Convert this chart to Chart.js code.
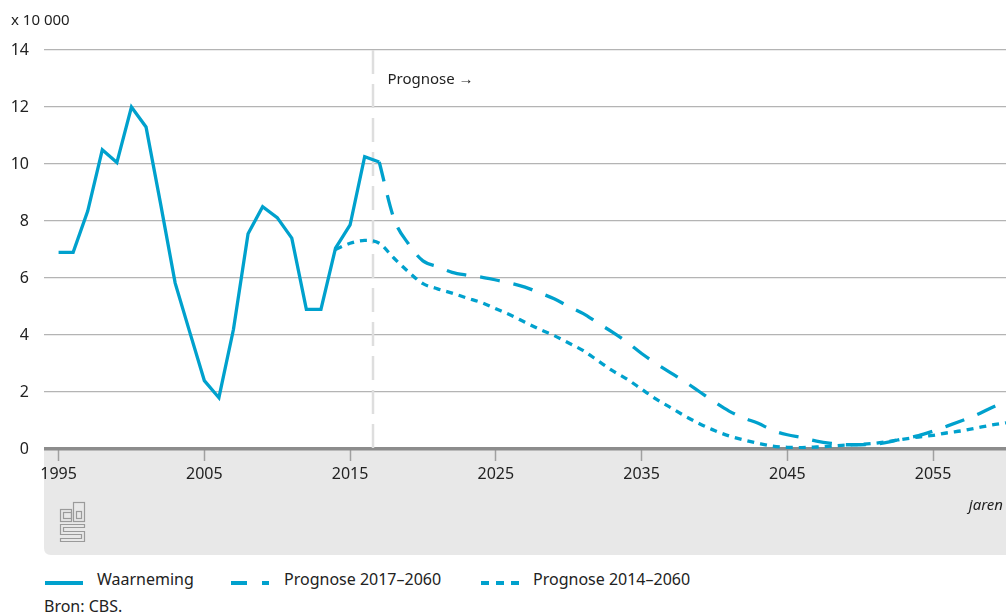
<!DOCTYPE html>
<html>
<head>
<meta charset="utf-8">
<script src="https://cdn.jsdelivr.net/npm/chart.js@4/dist/chart.umd.min.js"></script>
<style>
  body { margin: 0; background: #fff; font-family: 'Noto Sans', sans-serif; color: #222; }
  #wrap { position: relative; width: 1006px; height: 615px; }
  #box { position: absolute; left: 0; top: 0; width: 1006px; height: 555px; }
  .leg { position: absolute; top: 568px; font-size: 16px; line-height: 22px; white-space: nowrap; }
  .leg svg { position: absolute; top: 0; }
  #bron { position: absolute; left: 44px; top: 595px; font-size: 16px; line-height: 22px; }
</style>
</head>
<body>
<div id="wrap">
  <div id="box"><canvas id="chart"></canvas></div>
  <div class="leg" style="left:45px">
    <svg width="40" height="22"><line x1="0" y1="15" x2="38" y2="15" stroke="#00a1cd" stroke-width="4"/></svg>
    <span style="margin-left:52px">Waarneming</span>
  </div>
  <div class="leg" style="left:231px">
    <svg width="40" height="22"><line x1="0" y1="15" x2="38" y2="15" stroke="#00a1cd" stroke-width="4" stroke-dasharray="16 15"/></svg>
    <span style="margin-left:53px">Prognose 2017–2060</span>
  </div>
  <div class="leg" style="left:481px">
    <svg width="40" height="22"><line x1="0" y1="15" x2="38" y2="15" stroke="#00a1cd" stroke-width="4" stroke-dasharray="8 7"/></svg>
    <span style="margin-left:52px">Prognose 2014–2060</span>
  </div>
  <div id="bron">Bron: CBS.</div>
</div>
<script>
// Observed values (x 10 000)
const obsYears = [1995, 1996, 1997, 1998, 1999, 2000, 2001, 2002, 2003, 2004, 2005, 2006,
  2007, 2008, 2009, 2010, 2011, 2012, 2013, 2014, 2015, 2016, 2017]
const obsValues = [6.9, 6.9, 8.35, 10.5, 10.05, 12.0, 11.3, 8.6, 5.82, 4.1, 2.4, 1.8,
  4.2, 7.55, 8.5, 8.12, 7.4, 4.9, 4.9, 7.05, 7.86, 10.26, 10.07]

// Prognose 2017-2060
const prog17Years = []
for (let y = 2017; y <= 2060; y++) prog17Years.push(y)
const prog17Values = [10.07, 8.1, 7.2, 6.6, 6.4, 6.2, 6.1, 6.03, 5.93, 5.82, 5.68, 5.48,
  5.27, 5.0, 4.75, 4.42, 4.1, 3.75, 3.35, 3.0, 2.67, 2.35, 2.0, 1.65, 1.33, 1.09, 0.9,
  0.65, 0.5, 0.4, 0.28, 0.2, 0.15, 0.15, 0.17, 0.25, 0.37, 0.47, 0.63, 0.81, 1.0, 1.2,
  1.45, 1.68]

// Prognose 2014-2060
const prog14Years = []
for (let y = 2014; y <= 2060; y++) prog14Years.push(y)
const prog14Values = [7.0, 7.22, 7.32, 7.22, 6.7, 6.22, 5.8, 5.62, 5.47, 5.3, 5.14, 4.92,
  4.7, 4.45, 4.2, 3.98, 3.72, 3.45, 3.1, 2.75, 2.45, 2.1, 1.75, 1.45, 1.15, 0.88, 0.65,
  0.46, 0.32, 0.2, 0.1, 0.06, 0.05, 0.07, 0.1, 0.14, 0.16, 0.2, 0.27, 0.35, 0.42, 0.48,
  0.57, 0.64, 0.74, 0.84, 0.92]

const xTickYears = [1995, 2005, 2015, 2025, 2035, 2045, 2055]
const prognoseStart = 2016.6

const blue = '#00a1cd'
const pts = (xs, ys) => xs.map((x, i) => ({ x: x, y: ys[i] }))

// gray band under the x axis
const panelPlugin = {
  id: 'panel',
  beforeDraw(chart) {
    const { ctx, chartArea } = chart
    const x0 = chartArea.left, y0 = chartArea.bottom
    const x1 = chart.width, y1 = chart.height, r = 7
    ctx.save()
    ctx.fillStyle = '#e8e8e8'
    ctx.beginPath()
    ctx.moveTo(x0, y0)
    ctx.lineTo(x1, y0)
    ctx.lineTo(x1, y1)
    ctx.lineTo(x0 + r, y1)
    ctx.quadraticCurveTo(x0, y1, x0, y1 - r)
    ctx.closePath()
    ctx.fill()
    ctx.restore()
  },
  beforeDatasetsDraw(chart) {
    const { ctx, chartArea, scales } = chart
    const px = Math.round(scales.x.getPixelForValue(prognoseStart))
    ctx.save()
    ctx.strokeStyle = '#dedede'
    ctx.lineWidth = 2.5
    ctx.setLineDash([24, 10])
    ctx.beginPath()
    ctx.moveTo(px, chartArea.top)
    ctx.lineTo(px, chartArea.bottom)
    ctx.stroke()
    ctx.restore()
  },
  afterDraw(chart) {
    const { ctx, chartArea, scales } = chart
    const px = scales.x.getPixelForValue(prognoseStart)
    ctx.save()
    ctx.fillStyle = '#222'
    ctx.textBaseline = 'middle'
    ctx.font = '15px "Noto Sans"'
    ctx.fillText('x 10 000', 11, 21)
    ctx.fillText('Prognose \u2192', px + 14, 80)
    ctx.font = 'italic 15px "Noto Sans"'
    ctx.textAlign = 'right'
    ctx.fillText('jaren', 1003, 506)

    // cbs logo
    ctx.strokeStyle = '#9a9a9a'
    ctx.lineWidth = 1.2
    ctx.strokeRect(60.5, 509.5, 11, 12)
    ctx.strokeRect(63.5, 512.5, 8, 6)
    ctx.strokeRect(73.5, 502.5, 11, 19)
    ctx.strokeRect(76.5, 511.5, 5, 7)
    ctx.beginPath()
    ctx.moveTo(84.5, 524.5); ctx.lineTo(60.5, 524.5); ctx.lineTo(60.5, 534.5)
    ctx.lineTo(81.5, 534.5); ctx.lineTo(81.5, 538.5); ctx.lineTo(60.5, 538.5)
    ctx.lineTo(60.5, 541.5); ctx.lineTo(84.5, 541.5); ctx.lineTo(84.5, 531.5)
    ctx.lineTo(63.5, 531.5); ctx.lineTo(63.5, 527.5); ctx.lineTo(84.5, 527.5)
    ctx.closePath()
    ctx.stroke()
    ctx.restore()
  }
}

const ctx = document.getElementById('chart').getContext('2d')
new Chart(ctx, {
  type: 'line',
  data: {
    datasets: [
      {
        label: 'Prognose 2014–2060',
        data: pts(prog14Years, prog14Values),
        borderColor: blue,
        borderWidth: 3.3,
        borderDash: [7, 6],
        cubicInterpolationMode: 'monotone',
        pointRadius: 0,
        fill: false
      },
      {
        label: 'Prognose 2017–2060',
        data: pts(prog17Years, prog17Values),
        borderColor: blue,
        borderWidth: 3.3,
        borderDash: [20, 14],
        cubicInterpolationMode: 'monotone',
        pointRadius: 0,
        fill: false
      },
      {
        label: 'Waarneming',
        data: pts(obsYears, obsValues),
        borderColor: blue,
        borderWidth: 3.3,
        tension: 0,
        pointRadius: 0,
        fill: false
      }
    ]
  },
  options: {
    responsive: true,
    maintainAspectRatio: false,
    animation: false,
    layout: { padding: { top: 50, right: 0, left: 0, bottom: 0 } },
    scales: {
      x: {
        type: 'linear',
        min: 1994,
        max: 2060,
        afterBuildTicks: (scale) => {
          scale.ticks = xTickYears.map(v => ({ value: v }))
        },
        afterFit: (scale) => { scale.height = 106 },
        border: { display: false },
        grid: {
          drawOnChartArea: false,
          drawTicks: true,
          tickLength: 12,
          tickWidth: 1.5,
          tickColor: '#a0a0a0'
        },
        ticks: {
          padding: 4,
          maxRotation: 0,
          color: '#222',
          font: { family: 'Noto Sans', size: 16 },
          callback: (v) => String(v)
        }
      },
      y: {
        min: 0,
        max: 14,
        afterFit: (scale) => { scale.width = 44 },
        border: { display: false },
        grid: {
          drawTicks: false,
          color: (c) => c.tick && c.tick.value === 0 ? '#8c8c8c' : '#b4b4b4',
          lineWidth: (c) => c.tick && c.tick.value === 0 ? 3.5 : 1.2
        },
        ticks: {
          stepSize: 2,
          padding: 15,
          color: '#222',
          font: { family: 'Noto Sans', size: 16 }
        }
      }
    },
    plugins: {
      legend: { display: false },
      tooltip: { enabled: false }
    }
  },
  plugins: [panelPlugin]
})
</script>
</body>
</html>
